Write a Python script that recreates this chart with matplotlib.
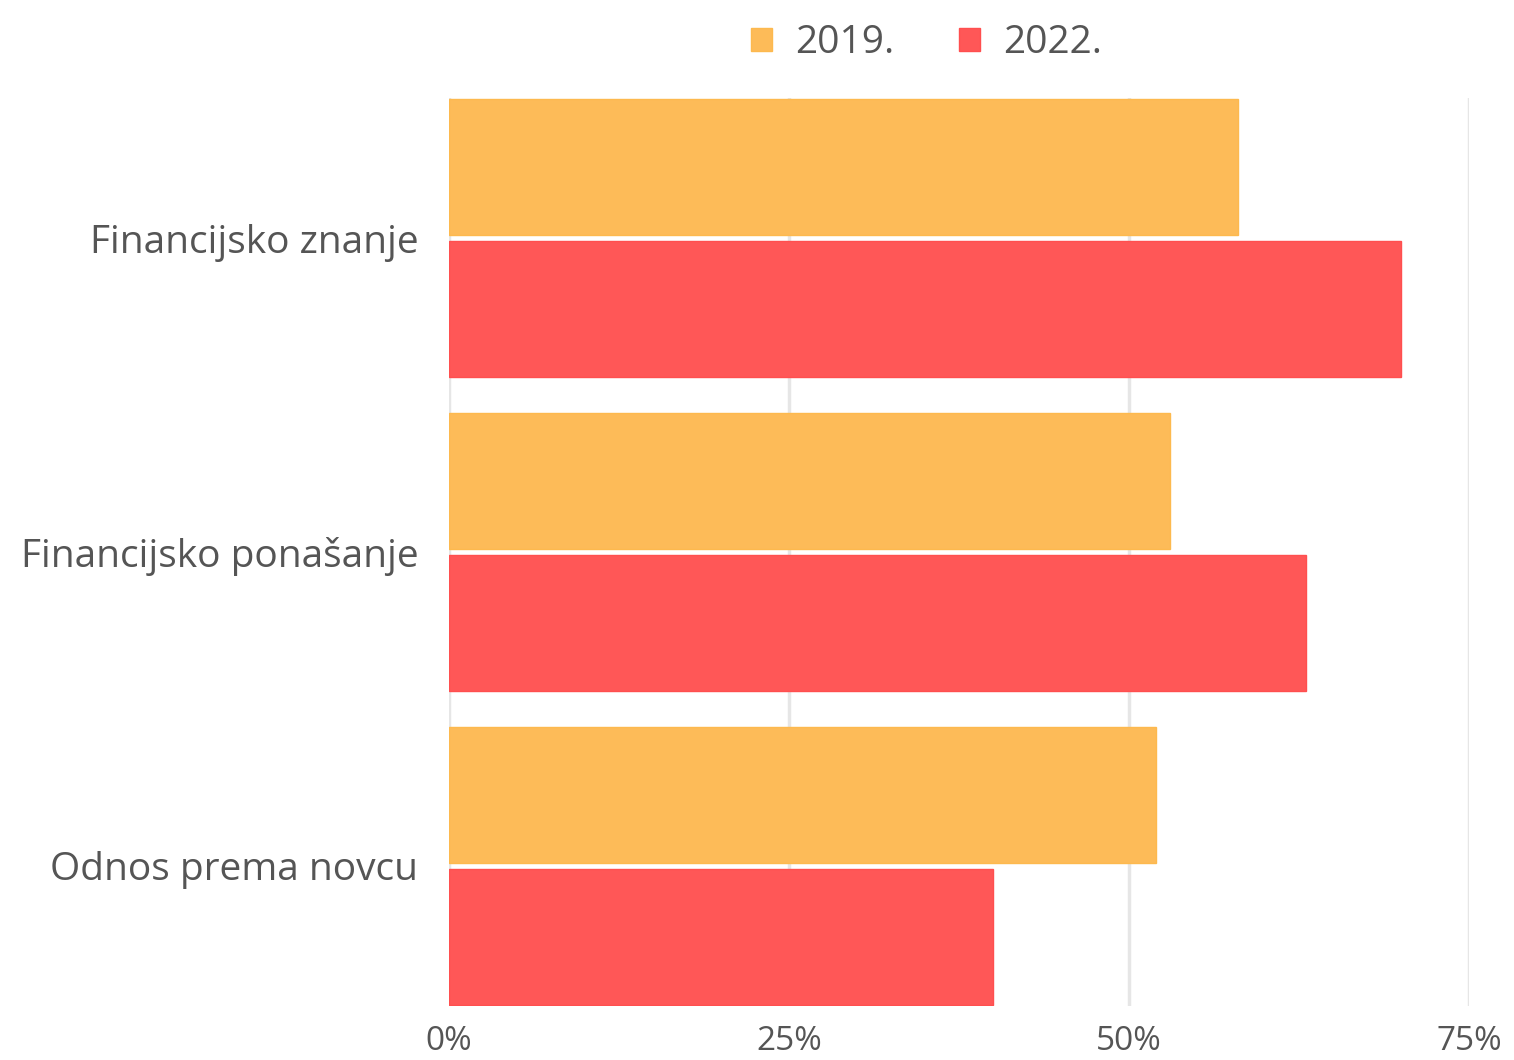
import matplotlib
matplotlib.use("Agg")
import matplotlib.pyplot as plt
import numpy as np

categories = ["Financijsko znanje", "Financijsko ponašanje", "Odnos prema novcu"]
series_names = ["2019.", "2022."]
values_2019 = [58, 53, 52]
values_2022 = [70, 63, 40]
x_ticks = [0, 25, 50, 75]
x_tick_labels = ["0%", "25%", "50%", "75%"]

colors = ["#FDBB58", "#FF5757"]
edge_colors = ["#FDB94E", "#FF4F4F"]

plt.rcParams['font.family'] = ['Open Sans', 'DejaVu Sans']

fig = plt.figure(figsize=(15.14, 10.6), dpi=100)
ax = fig.add_axes([449/1514, 1-1006/1060, (1469-449)/1514, (1006-98)/1060])

y = np.arange(len(categories))
bar_h = 0.435
offset = 0.226
for i, (vals, c, ec, name) in enumerate(zip([values_2019, values_2022], colors, edge_colors, series_names)):
    pos = y - offset if i == 0 else y + offset
    ax.barh(pos, vals, height=bar_h, color=c, edgecolor=ec, linewidth=1.0, label=name, zorder=3)

ax.set_xlim(0, 75)
ax.set_ylim(len(categories) - 1 + 0.446, -0.446)
ax.set_xticks(x_ticks)
ax.set_xticklabels(x_tick_labels)
ax.set_yticks(y)
ax.set_yticklabels(categories)
ax.grid(axis='x', color='#e6e6e6', linewidth=2.5, zorder=0)
ax.set_axisbelow(True)
for s in ax.spines.values():
    s.set_visible(False)
ax.tick_params(axis='both', length=0, colors='#666666')
ax.tick_params(axis='x', labelsize=24, pad=14)
ax.tick_params(axis='y', labelsize=28, pad=22)
for lab in ax.get_yticklabels() + ax.get_xticklabels():
    lab.set_color('#555555')

leg = fig.legend(loc='upper center', bbox_to_anchor=(0.612, 1.01), ncol=2, frameon=False,
                 fontsize=28, handlelength=0.55, handleheight=0.55, columnspacing=1.65,
                 handletextpad=0.6, labelcolor='#555555')

fig.savefig("out.png", dpi=100, facecolor='white')
